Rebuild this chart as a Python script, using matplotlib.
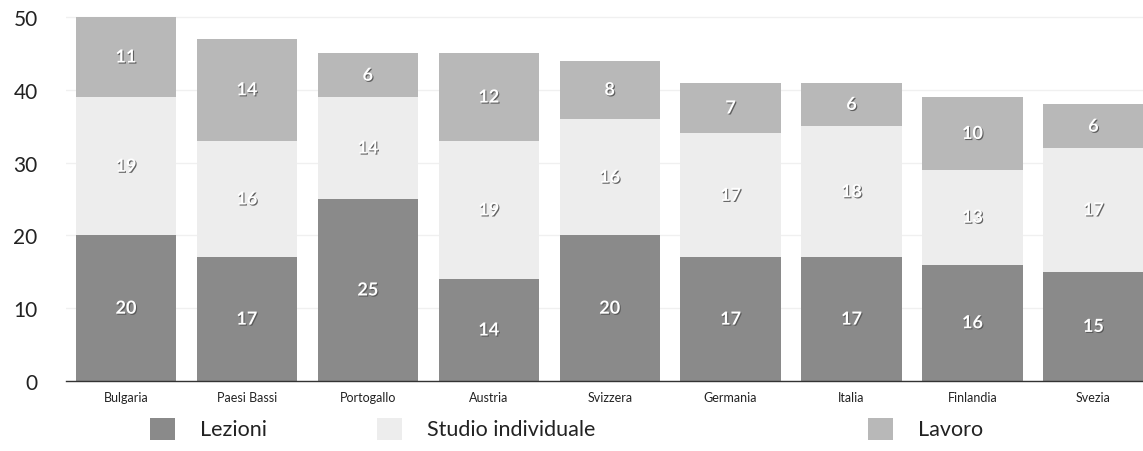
import matplotlib
matplotlib.use('Agg')
import matplotlib.pyplot as plt
import matplotlib.patheffects as pe
from matplotlib.patches import Rectangle
import numpy as np

plt.rcParams['font.family'] = ['Lato', 'DejaVu Sans']

# Ore settimanali per paese
paesi = ['Bulgaria', 'Paesi Bassi', 'Portogallo', 'Austria', 'Svizzera',
         'Germania', 'Italia', 'Finlandia', 'Svezia']
lezioni = [20, 17, 25, 14, 20, 17, 17, 16, 15]
studio = [19, 16, 14, 19, 16, 17, 18, 13, 17]
lavoro = [11, 14, 6, 12, 8, 7, 6, 10, 6]
serie = ['Lezioni', 'Studio individuale', 'Lavoro']
colori = ['#8a8a8a', '#ededed', '#b8b8b8']

fig = plt.figure(figsize=(11.43, 4.52), dpi=100, facecolor='white')
ax = fig.add_axes([65.5 / 1143, 1 - 382 / 452, 1 - 65.5 / 1143, 382 / 452])

# barre impilate con etichette bianche in ombra
x = np.arange(len(paesi))
base = np.zeros(len(paesi))
for valori, col in zip([lezioni, studio, lavoro], colori):
    valori = np.array(valori)
    ax.bar(x, valori, bottom=base, width=0.83, color=col, zorder=2)
    for xi, b, v in zip(x, base, valori):
        ax.text(xi, b + v / 2, str(v), ha='center', va='center', fontsize=13,
                color='white', fontweight='bold', zorder=3,
                path_effects=[pe.withSimplePatchShadow(offset=(0.8, -0.8),
                                                       shadow_rgbFace='#555555',
                                                       alpha=0.9)])
    base = base + valori

ax.set_xlim(-0.5, 8.41)
ax.set_ylim(0, 52.47)
ax.set_yticks([0, 10, 20, 30, 40, 50])
ax.set_xticks(x)
ax.set_xticklabels(paesi, fontsize=9, color='#222222')
ax.tick_params(axis='y', labelsize=15, length=0, pad=20, colors='#222222')
ax.tick_params(axis='x', length=0, pad=7)
ax.grid(axis='y', color='#f0f0f0', linewidth=1, zorder=0)
for s in ['top', 'right', 'left']:
    ax.spines[s].set_visible(False)
ax.spines['bottom'].set_color('#333333')
ax.spines['bottom'].set_linewidth(1)

# Legenda in basso
legenda_x = [150, 377, 868]
for px, nome, col in zip(legenda_x, serie, colori):
    fig.patches.append(Rectangle((px / 1143, 1 - 441 / 452), 25 / 1143, 22 / 452,
                                 transform=fig.transFigure, facecolor=col,
                                 edgecolor='none'))
    fig.text((px + 50) / 1143, 1 - 430 / 452, nome, fontsize=15.5,
             va='center', ha='left', color='#222222')

fig.savefig('out.png', dpi=100, facecolor='white')
